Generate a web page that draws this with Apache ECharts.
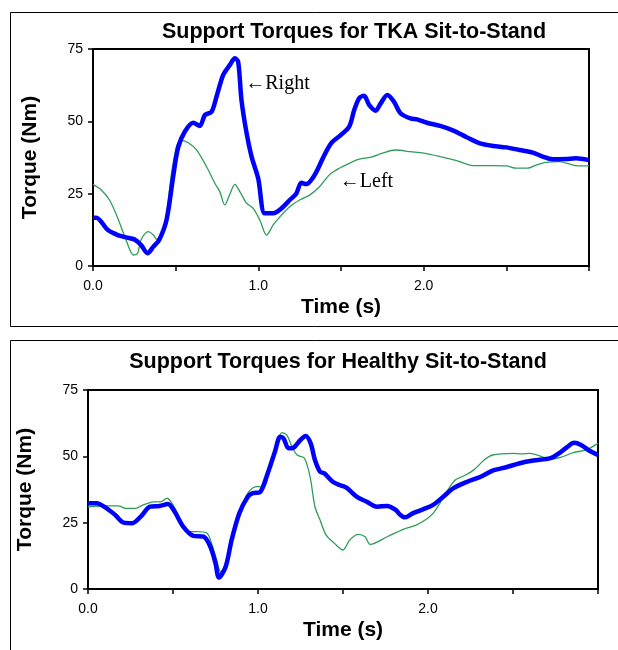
<!DOCTYPE html>
<html>
<head>
<meta charset="utf-8">
<script src="https://cdn.jsdelivr.net/npm/echarts@6/dist/echarts.min.js"></script>
<style>
  body { margin: 0; background: #fff; }
  #chart { width: 618px; height: 650px; }
</style>
</head>
<body>
<div id="chart"></div>
<script>
// TKA sit-to-stand
const tkaRightT = [0, 0.02, 0.09, 0.15, 0.2, 0.25, 0.29, 0.33, 0.365, 0.4, 0.445, 0.485, 0.515, 0.555, 0.606, 0.646, 0.677, 0.717, 0.747, 0.787, 0.828, 0.858, 0.878, 0.898, 0.929, 0.959, 0.999, 1.039, 1.09, 1.13, 1.19, 1.23, 1.26, 1.29, 1.34, 1.39, 1.44, 1.5, 1.55, 1.58, 1.61, 1.64, 1.67, 1.71, 1.74, 1.78, 1.82, 1.86, 1.92, 1.96, 2.02, 2.1, 2.18, 2.26, 2.34, 2.42, 2.5, 2.58, 2.66, 2.72, 2.78, 2.86, 2.92, 3.0];
const tkaRightV = [16.7, 16.7, 12.4, 10.7, 9.9, 9.2, 7.3, 4.4, 6.7, 9, 16, 31, 41, 46.4, 49.5, 48.4, 52.2, 53.3, 58.5, 66, 69.5, 71.8, 70.6, 57.4, 45.9, 37.8, 30.3, 18.2, 18.2, 19.4, 22.8, 25.1, 28.8, 28.3, 31.4, 37.2, 42.4, 45.3, 48.2, 53.9, 58, 58.8, 55.7, 53.7, 56.2, 59.1, 56.8, 52.8, 51, 50.7, 49.5, 48.4, 46.8, 44.5, 42.4, 41.5, 41, 40.1, 39.2, 37.8, 36.9, 37, 37.2, 36.6];
const tkaLeftT = [0, 0.05, 0.1, 0.15, 0.2, 0.245, 0.27, 0.29, 0.335, 0.365, 0.385, 0.415, 0.445, 0.475, 0.505, 0.53, 0.576, 0.626, 0.687, 0.737, 0.767, 0.797, 0.828, 0.858, 0.888, 0.929, 0.969, 1.009, 1.05, 1.09, 1.13, 1.19, 1.25, 1.31, 1.37, 1.43, 1.49, 1.55, 1.61, 1.68, 1.75, 1.83, 1.92, 2.0, 2.1, 2.2, 2.3, 2.42, 2.5, 2.56, 2.63, 2.68, 2.74, 2.82, 2.88, 2.92, 3.0];
const tkaLeftV = [28.2, 26.3, 22.8, 16.5, 9, 3.8, 4.4, 9, 11.9, 10.7, 9.2, 11.3, 18.2, 32, 41.2, 43.5, 42.6, 40.1, 34.3, 28.6, 25.7, 21.1, 24.9, 28.2, 25.7, 21.7, 19.9, 15.9, 10.7, 14.2, 17, 20.5, 22.8, 24.5, 27.4, 31.5, 33.8, 35.5, 36.9, 37.6, 39, 40.1, 39.5, 39, 37.8, 36.4, 34.7, 34.7, 34.6, 33.8, 33.8, 34.9, 35.8, 36.1, 35.3, 34.7, 34.6];

// healthy sit-to-stand
const healthyRightT = [0, 0.05, 0.11, 0.16, 0.21, 0.26, 0.31, 0.365, 0.42, 0.47, 0.51, 0.56, 0.62, 0.68, 0.72, 0.75, 0.77, 0.81, 0.845, 0.89, 0.94, 0.97, 1.01, 1.05, 1.1, 1.13, 1.15, 1.18, 1.21, 1.25, 1.28, 1.31, 1.335, 1.365, 1.39, 1.44, 1.48, 1.52, 1.58, 1.64, 1.7, 1.76, 1.81, 1.835, 1.865, 1.91, 1.97, 2.03, 2.09, 2.15, 2.23, 2.31, 2.38, 2.46, 2.54, 2.62, 2.72, 2.77, 2.82, 2.86, 2.9, 2.95, 3.0];
const healthyRightV = [32.3, 32.3, 30.4, 27.9, 25, 24.8, 27.3, 31, 31.3, 32, 29.1, 23.5, 20, 19.7, 15.9, 9.7, 4.3, 8.4, 18.5, 28.5, 34.8, 36.1, 36.4, 42.3, 51.8, 57.4, 56.8, 53, 53.3, 56.2, 57.7, 54.9, 48.6, 44.2, 43.6, 40.4, 39.2, 38.2, 34.8, 32.9, 31, 31.3, 29.8, 28.1, 27, 28.5, 30, 31.7, 34.8, 38, 40.4, 42.3, 44.6, 45.9, 47.4, 48.4, 49.3, 51.1, 53.6, 55.1, 54.3, 52.1, 50.5];
const healthyLeftT = [0, 0.11, 0.18, 0.22, 0.28, 0.325, 0.385, 0.43, 0.465, 0.5, 0.54, 0.59, 0.64, 0.7, 0.73, 0.757, 0.78, 0.815, 0.855, 0.905, 0.94, 0.99, 1.035, 1.07, 1.11, 1.14, 1.17, 1.2, 1.23, 1.27, 1.29, 1.31, 1.335, 1.365, 1.4, 1.45, 1.5, 1.54, 1.59, 1.63, 1.66, 1.76, 1.855, 1.93, 1.99, 2.03, 2.07, 2.11, 2.16, 2.21, 2.27, 2.33, 2.38, 2.5, 2.55, 2.6, 2.66, 2.72, 2.78, 2.855, 2.93, 3.0];
const healthyLeftV = [31, 31.3, 31.3, 30.4, 30.4, 31.7, 32.8, 32.9, 34.2, 31.7, 26.6, 21.6, 21.6, 21, 16.6, 10.9, 6.5, 10.9, 21, 31, 36.1, 38.6, 38.6, 44.9, 53.6, 58.9, 58, 53.6, 50.5, 49.5, 46.5, 41.1, 31, 26, 20.4, 17.2, 14.7, 18.5, 20.6, 19.7, 16.8, 19.7, 22.5, 24.1, 26.3, 28.5, 32.3, 36.7, 41.1, 42.6, 44.9, 48.6, 50.5, 51.1, 50.9, 51.1, 50.1, 48.9, 49.6, 51.4, 52.4, 54.9];

const xTickLabels = ["0.0", "1.0", "2.0"];
const titles = ["Support Torques for TKA Sit-to-Stand", "Support Torques for Healthy Sit-to-Stand"];

const sans = "Liberation Sans";
const pair = (ts, vs) => ts.map((t, i) => [t, vs[i]]);

function xAxisFor(idx) {
  return {
    type: "value", gridIndex: idx, min: 0, max: 3, interval: 0.5,
    name: "Time (s)", nameLocation: "middle", nameGap: 31,
    nameTextStyle: { fontFamily: sans, fontWeight: "bold", fontSize: 21, color: "#000" },
    axisLine: { lineStyle: { color: "#000", width: 2 } },
    axisTick: { show: true, length: 5, lineStyle: { color: "#000", width: 1.5 } },
    axisLabel: {
      margin: 13, fontFamily: sans, fontSize: 14, color: "#000",
      formatter: (v) => (Number.isInteger(v) && v < xTickLabels.length ? xTickLabels[v] : ""),
    },
    splitLine: { show: false },
  };
}
function yAxisFor(idx) {
  return {
    type: "value", gridIndex: idx, min: 0, max: 75, interval: 25,
    name: "Torque (Nm)", nameLocation: "middle", nameGap: 52,
    nameTextStyle: { fontFamily: sans, fontWeight: "bold", fontSize: 21, color: "#000" },
    axisLine: { show: true, lineStyle: { color: "#000", width: 2 } },
    axisTick: { show: true, length: 5, lineStyle: { color: "#000", width: 1.5 } },
    axisLabel: { margin: 10, fontFamily: sans, fontSize: 14, color: "#000" },
    splitLine: { show: false },
  };
}
function note(text, coord) {
  return {
    coord: coord, symbol: "circle", symbolSize: 1,
    itemStyle: { color: "rgba(0,0,0,0)" },
    label: { show: true, position: "right", distance: 0, formatter: text,
      fontFamily: "Liberation Serif", fontSize: 20, color: "#000" },
  };
}

const chart = echarts.init(document.getElementById("chart"));
chart.setOption({
  animation: false,
  title: [
    { text: titles[0], left: 354, top: 21, textAlign: "center", padding: 0,
      textStyle: { fontFamily: sans, fontWeight: "bold", fontSize: 21.5, color: "#000" } },
    { text: titles[1], left: 338, top: 351, textAlign: "center", padding: 0,
      textStyle: { fontFamily: sans, fontWeight: "bold", fontSize: 21.5, color: "#000" } },
  ],
  graphic: [
    { type: "rect", shape: { x: 10.5, y: 12.5, width: 640, height: 314 },
      style: { fill: "none", stroke: "#000", lineWidth: 1 }, silent: true },
    { type: "rect", shape: { x: 10.5, y: 340.5, width: 640, height: 340 },
      style: { fill: "none", stroke: "#000", lineWidth: 1 }, silent: true },
  ],
  grid: [
    { left: 93, top: 49, width: 496, height: 217, show: true, borderColor: "#000", borderWidth: 2 },
    { left: 88, top: 390, width: 510, height: 199, show: true, borderColor: "#000", borderWidth: 2 },
  ],
  xAxis: [xAxisFor(0), xAxisFor(1)],
  yAxis: [yAxisFor(0), yAxisFor(1)],
  series: [
    { name: "TKA Left", type: "line", xAxisIndex: 0, yAxisIndex: 0, data: pair(tkaLeftT, tkaLeftV),
      showSymbol: false, smooth: 0.3, lineStyle: { color: "#2f9c5a", width: 1.3 },
      markPoint: { data: [note("←Left", [1.49, 29.1])] } },
    { name: "TKA Right", type: "line", xAxisIndex: 0, yAxisIndex: 0, data: pair(tkaRightT, tkaRightV),
      showSymbol: false, smooth: 0.3, lineStyle: { color: "#0000ff", width: 4.5 },
      markPoint: { data: [note("←Right", [0.918, 62.9])] } },
    { name: "Healthy Left", type: "line", xAxisIndex: 1, yAxisIndex: 1, data: pair(healthyLeftT, healthyLeftV),
      showSymbol: false, smooth: 0.3, lineStyle: { color: "#2f9c5a", width: 1.3 } },
    { name: "Healthy Right", type: "line", xAxisIndex: 1, yAxisIndex: 1, data: pair(healthyRightT, healthyRightV),
      showSymbol: false, smooth: 0.3, lineStyle: { color: "#0000ff", width: 4.5 } },
  ],
});
</script>
</body>
</html>
